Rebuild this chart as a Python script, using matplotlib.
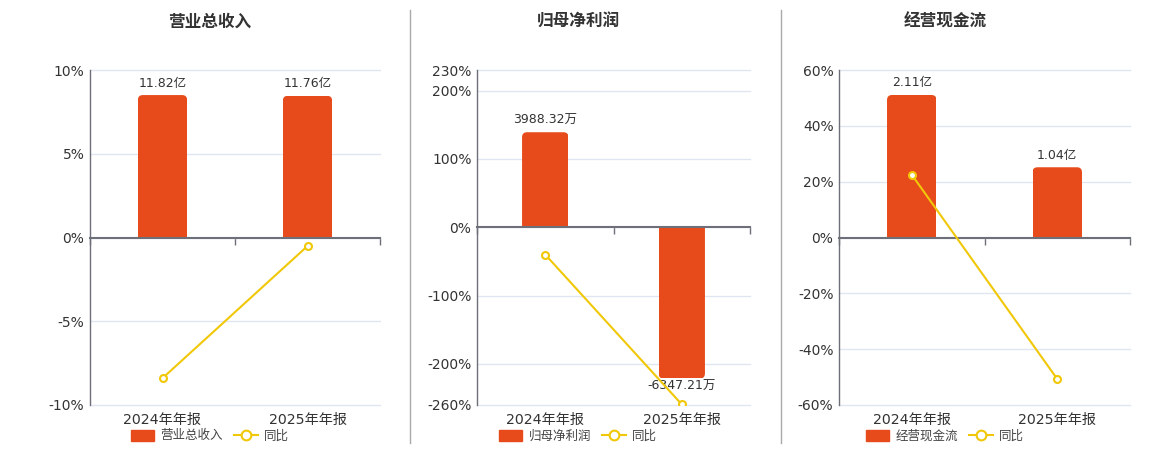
import matplotlib
matplotlib.use("Agg")
import matplotlib.pyplot as plt
from matplotlib.patches import FancyBboxPatch, Patch
from matplotlib.lines import Line2D
from matplotlib.transforms import IdentityTransform, blended_transform_factory

plt.rcParams['font.family'] = ['DejaVu Sans', 'Noto Sans CJK SC']

# ---------------- data ----------------
categories = ['2024年年报', '2025年年报']

titles = ['营业总收入', '归母净利润', '经营现金流']
series_names = ['营业总收入', '归母净利润', '经营现金流']

revenue = [11.82, 11.76]            # 亿
revenue_labels = ['11.82亿', '11.76亿']
revenue_yoy = [-8.4, -0.51]         # %

profit = [3988.32, -6347.21]        # 万
profit_labels = ['3988.32万', '-6347.21万']
profit_yoy = [-40.0, -259.1]        # %

cash = [2.11, 1.04]                 # 亿
cash_labels = ['2.11亿', '1.04亿']
cash_yoy = [22.5, -50.7]            # %

pct_ticks = [
    [-10, -5, 0, 5, 10],
    [-260, -200, -100, 0, 100, 200, 230],
    [-60, -40, -20, 0, 20, 40, 60],
]

# ---------------- style / layout ----------------
W, H = 1160, 450
BAR_COLOR = '#e84b1b'
LINE_COLOR = '#f0c808'
AXIS_COLOR = '#6e7079'
GRID_COLOR = '#e0e6f1'
TEXT_COLOR = '#333333'

panels = [
    dict(x0=90, x1=380, center=210, bar_top=13.9, vals=revenue, labels=revenue_labels, yoy=revenue_yoy),
    dict(x0=477, x1=750, center=578, bar_top=6600, vals=profit, labels=profit_labels, yoy=profit_yoy),
    dict(x0=839, x1=1130, center=945, bar_top=2.48, vals=cash, labels=cash_labels, yoy=cash_yoy),
]
Y_TOP, Y_BOT = 70, 405

fig = plt.figure(figsize=(W / 100, H / 100), dpi=100)

bar_artists = []
for i, p in enumerate(panels):
    ticks = pct_ticks[i]
    lo, hi = ticks[0], ticks[-1]
    rect = [p['x0'] / W, 1 - Y_BOT / H, (p['x1'] - p['x0']) / W, (Y_BOT - Y_TOP) / H]
    bax = fig.add_axes(rect)
    scale = p['bar_top'] / hi
    bax.set_ylim(lo * scale, hi * scale)
    bax.set_xlim(-0.5, 1.5)

    # gridlines (on bar axis, behind bars)
    bax.set_yticks([t * scale for t in ticks])
    bax.yaxis.set_tick_params(length=0, labelleft=False)
    bax.grid(axis='y', color=GRID_COLOR, linewidth=1, clip_on=False)
    bax.set_axisbelow(True)

    # zero axis line with boundary ticks
    for s in ['top', 'right']:
        bax.spines[s].set_visible(False)
    bax.spines['bottom'].set_position(('data', 0))
    bax.spines['bottom'].set_color(AXIS_COLOR)
    bax.spines['bottom'].set_linewidth(1.5)
    bax.spines['left'].set_color(AXIS_COLOR)
    bax.spines['left'].set_linewidth(1)
    bax.set_xticks([0, 1])
    bax.set_xticklabels(['', ''])
    bax.xaxis.set_tick_params(which='major', length=0)
    bax.set_xticks([-0.5, 0.5, 1.5], minor=True)
    bax.xaxis.set_tick_params(which='minor', length=5, width=1, color=AXIS_COLOR, direction='out')

    bars = bax.bar(range(len(categories)), p['vals'], width=0.34, color=BAR_COLOR, zorder=2)
    bar_artists.append((bax, bars, p['vals']))

    # bar labels
    for j, (v, lab) in enumerate(zip(p['vals'], p['labels'])):
        if v >= 0:
            bax.annotate(lab, (j, v), xytext=(0, 4), textcoords='offset points',
                         ha='center', va='bottom', fontsize=9, color=TEXT_COLOR, zorder=5)
        else:
            bax.annotate(lab, (j, v), xytext=(0, -1), textcoords='offset points',
                         ha='center', va='top', fontsize=9, color=TEXT_COLOR, zorder=5)

    # category labels
    tr = blended_transform_factory(bax.transData, bax.transAxes)
    for j, c in enumerate(categories):
        bax.text(j, -15 / (Y_BOT - Y_TOP), c, transform=tr, ha='center', va='center',
                 fontsize=10.2, color=TEXT_COLOR)

    # percentage axis (line)
    pax = bax.twinx()
    pax.set_ylim(lo, hi)
    pax.yaxis.tick_left()
    pax.set_yticks(ticks)
    pax.set_yticklabels([f'{t}%' for t in ticks])
    pax.yaxis.set_tick_params(length=0, pad=4, labelsize=10, labelcolor=TEXT_COLOR)
    for s in pax.spines.values():
        s.set_visible(False)
    pax.plot(range(len(categories)), p['yoy'], color=LINE_COLOR, linewidth=1.5,
             marker='o', markersize=5, markerfacecolor='white', markeredgecolor=LINE_COLOR,
             markeredgewidth=1.5, zorder=4)

    # title
    fig.text(p['center'] / W, 1 - 22 / H, titles[i], ha='center', va='center',
             fontsize=12, fontweight='bold', color=TEXT_COLOR)

    # legend
    handles = [Patch(facecolor=BAR_COLOR, edgecolor=BAR_COLOR),
               Line2D([0], [0], color=LINE_COLOR, linewidth=1.5, marker='o', markersize=7,
                      markerfacecolor='white', markeredgecolor=LINE_COLOR, markeredgewidth=1.5)]
    fig.legend(handles, [series_names[i], '同比'], loc='center',
               bbox_to_anchor=(p['center'] / W, 1 - 436 / H), ncol=2, frameon=False,
               fontsize=9, labelcolor='#444444', handlelength=1.9, handleheight=1.0,
               handletextpad=0.5, columnspacing=0.9, borderaxespad=0, borderpad=0)

# divider lines
for xd in [410, 781]:
    fig.add_artist(Line2D([xd / W, xd / W], [1 - 10 / H, 1 - 443 / H], color='#aaaaaa', linewidth=1))

# rounded bar ends via clip paths
for bax, bars, vals in bar_artists:
    for b, v in zip(bars, vals):
        (xa, ya) = bax.transData.transform((b.get_x(), b.get_y()))
        (xb, yb) = bax.transData.transform((b.get_x() + b.get_width(), b.get_y() + b.get_height()))
        ymin, ymax = min(ya, yb), max(ya, yb)
        if v >= 0:
            ymin -= 10
        else:
            ymax += 10
        clip = FancyBboxPatch((min(xa, xb), ymin), abs(xb - xa), ymax - ymin,
                              boxstyle='round,pad=0,rounding_size=5', transform=IdentityTransform())
        b.set_clip_path(clip)

fig.savefig('out.png', dpi=100)
